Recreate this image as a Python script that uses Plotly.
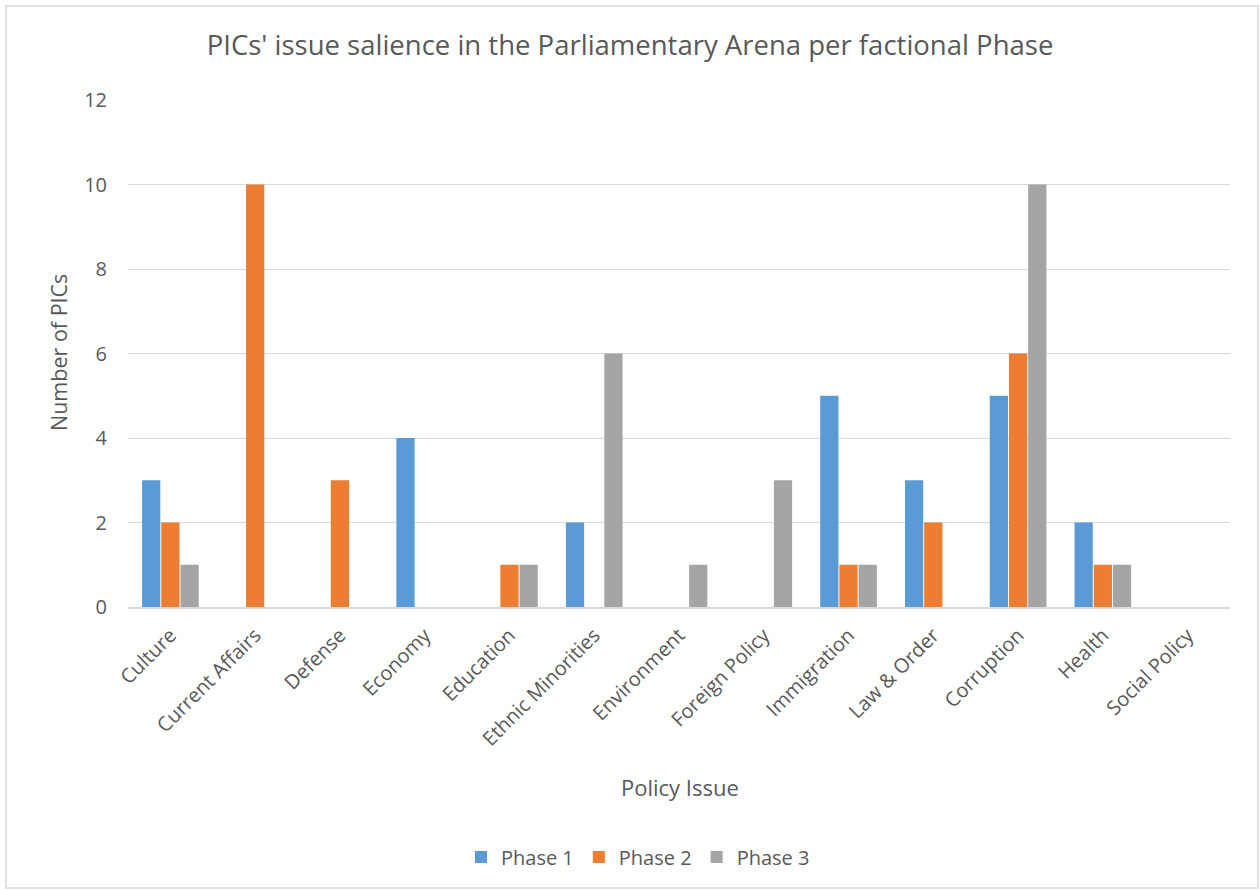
import plotly.graph_objects as go

categories = ["Culture", "Current Affairs", "Defense", "Economy", "Education",
              "Ethnic Minorities", "Environment", "Foreign Policy", "Immigration",
              "Law & Order", "Corruption", "Health", "Social Policy"]
phase1 = [3, 0, 0, 4, 0, 2, 0, 0, 5, 3, 5, 2, 0]
phase2 = [2, 10, 3, 0, 1, 0, 0, 0, 1, 2, 6, 1, 0]
phase3 = [1, 0, 0, 0, 1, 6, 1, 3, 1, 0, 10, 1, 0]
series_names = ["Phase 1", "Phase 2", "Phase 3"]
colors = ["#5B9BD5", "#ED7D31", "#A5A5A5"]
y_ticks = [0, 2, 4, 6, 8, 10, 12]

FONT = "Open Sans"
TXT = "#595959"

fig = go.Figure()
for name, vals, c in zip(series_names, [phase1, phase2, phase3], colors):
    fig.add_trace(go.Bar(x=categories, y=vals, name=name, marker_color=c,
                         marker_line_width=0))

W, H = 1260, 890
L, R, T, B = 128, 30, 100, 283
pw, ph = W - L - R, H - T - B

def px(x):
    return (x - L) / pw

def py(y):
    return (H - B - y) / ph

fig.update_layout(
    width=W, height=H,
    margin=dict(l=L, r=R, t=T, b=B),
    paper_bgcolor="white", plot_bgcolor="white",
    font=dict(family=FONT, color=TXT, size=20),
    barmode="group", bargap=0.32, bargroupgap=0.05,
    title=dict(text="PICs' issue salience in the Parliamentary Arena per factional Phase",
               x=0.5, xanchor="center", y=1 - 45 / H, yanchor="middle",
               font=dict(size=27.5, color=TXT, family=FONT)),
    showlegend=True,
    legend=dict(orientation="h", x=px(638), xanchor="center", y=py(857), yanchor="middle",
                font=dict(size=20, color=TXT), itemwidth=30, traceorder="normal"),
    xaxis=dict(tickangle=-45, showgrid=False, showline=True, linecolor="#D9D9D9",
               linewidth=1.5, ticks="", ticklabelstandoff=7,
               tickfont=dict(size=20, color=TXT)),
    yaxis=dict(range=[0, 12], tickvals=y_ticks, showgrid=True, gridcolor="#D9D9D9",
               gridwidth=1, zeroline=False, showline=False, ticks="",
               ticklabelstandoff=20,
               tickfont=dict(size=20, color=TXT)),
)

fig.add_annotation(text="Number of PICs", xref="paper", yref="paper",
                   x=px(58), y=py(353), textangle=-90, showarrow=False,
                   xanchor="center", yanchor="middle",
                   font=dict(size=21.5, color=TXT, family=FONT))
fig.add_annotation(text="Policy Issue", xref="paper", yref="paper",
                   x=px(680), y=py(787), showarrow=False,
                   xanchor="center", yanchor="middle",
                   font=dict(size=22, color=TXT, family=FONT))

fig.add_shape(type="rect", xref="paper", yref="paper",
              x0=px(6), x1=px(1258), y0=py(888), y1=py(6),
              line=dict(color="#D9D9D9", width=1.5), fillcolor="rgba(0,0,0,0)",
              layer="below")

fig.write_html("out.html", config={"displayModeBar": False},
               post_script="document.body.style.margin='0px';")
